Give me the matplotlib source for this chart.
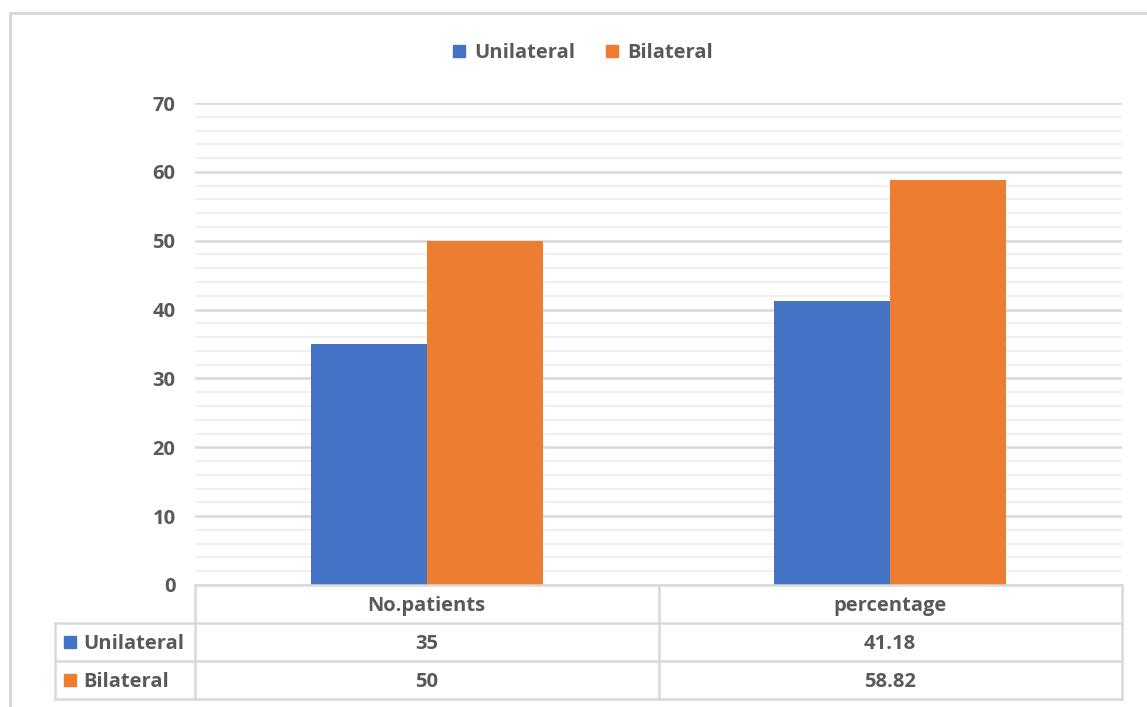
import matplotlib
matplotlib.use("Agg")
import matplotlib.pyplot as plt
from matplotlib.lines import Line2D
from matplotlib.patches import Rectangle
import numpy as np

categories = ["No.patients", "percentage"]
series_names = ["Unilateral", "Bilateral"]
unilateral = [35, 41.18]
bilateral = [50, 58.82]
table_labels = [["35", "41.18"], ["50", "58.82"]]
y_ticks = [0, 10, 20, 30, 40, 50, 60, 70]

colors = ["#4472C4", "#ED7D31"]
text_color = "#595959"
grid_major = "#D9D9D9"
grid_minor = "#F0F0F0"
plt.rcParams['font.family'] = ['Open Sans', 'DejaVu Sans']
FS = 14.5

W, H = 1147, 707
fig = plt.figure(figsize=(W / 100, H / 100), dpi=100)

def fx(px):
    return px / W

def fy(py):
    return 1 - py / H

ax_l, ax_r, ax_t, ax_b = 195, 1122, 103, 585
ax = fig.add_axes([fx(ax_l), fy(ax_b), fx(ax_r) - fx(ax_l), fy(ax_t) - fy(ax_b)])

x = np.arange(len(categories))
bw = 0.25
ax.bar(x - bw / 2, unilateral, bw, color=colors[0], zorder=3, label=series_names[0])
ax.bar(x + bw / 2, bilateral, bw, color=colors[1], zorder=3, label=series_names[1])

ax.set_xlim(-0.5, len(categories) - 0.5)
ax.set_ylim(0, 70)
ax.set_yticks(y_ticks)
ax.set_yticks(np.arange(0, 71, 2), minor=True)
ax.set_yticklabels([str(t) for t in y_ticks], fontsize=FS, fontweight='bold', color=text_color)
ax.tick_params(axis='y', which='both', length=0, pad=14)
ax.set_xticks([])
for s in ax.spines.values():
    s.set_visible(False)
ax.grid(axis='y', which='minor', color=grid_minor, linewidth=1.5, zorder=0)
ax.grid(axis='y', which='major', color=grid_major, linewidth=1.8, zorder=1)

# Table
rows_y = [585, 623, 661, 699]
lab_l = 55
col_edges_px = [ax_l, (ax_l + ax_r) / 2, ax_r]
lc = grid_major
lw = 1.8
fig.add_artist(Line2D([fx(ax_l), fx(ax_r)], [fy(rows_y[0])] * 2, color=lc, lw=lw))
for ry in rows_y[1:]:
    fig.add_artist(Line2D([fx(lab_l), fx(ax_r)], [fy(ry)] * 2, color=lc, lw=lw))
for cx in col_edges_px:
    fig.add_artist(Line2D([fx(cx)] * 2, [fy(rows_y[0]), fy(rows_y[3])], color=lc, lw=lw))
fig.add_artist(Line2D([fx(lab_l)] * 2, [fy(rows_y[1]), fy(rows_y[3])], color=lc, lw=lw))

dy = 2
for i, cat in enumerate(categories):
    cx = (col_edges_px[i] + col_edges_px[i + 1]) / 2
    fig.text(fx(cx), fy((rows_y[0] + rows_y[1]) / 2 + dy), cat, ha='center', va='center',
             fontsize=FS, fontweight='bold', color=text_color)
for r, name in enumerate(series_names):
    cy = (rows_y[r + 1] + rows_y[r + 2]) / 2
    fig.add_artist(Rectangle((fx(64), fy(cy + 6)), fx(12), 12 / H, color=colors[r]))
    fig.text(fx(83), fy(cy + dy), name, ha='left', va='center', fontsize=FS,
             fontweight='bold', color=text_color)
    for i in range(len(categories)):
        cx = (col_edges_px[i] + col_edges_px[i + 1]) / 2
        fig.text(fx(cx), fy(cy + dy), table_labels[r][i], ha='center', va='center',
                 fontsize=FS, fontweight='bold', color=text_color)

leg = fig.legend(handles=[Rectangle((0, 0), 1, 1, color=c) for c in colors], labels=series_names,
                 loc='center', bbox_to_anchor=(fx(583), fy(53)), ncol=2, frameon=False,
                 prop={'size': FS, 'weight': 'bold'}, handlelength=0.6, handleheight=0.6,
                 handletextpad=0.45, columnspacing=1.5)
for t in leg.get_texts():
    t.set_color(text_color)

fig.add_artist(Line2D([fx(10), 1], [fy(13)] * 2, color=lc, lw=2.2))
fig.add_artist(Line2D([fx(10)] * 2, [fy(13), 0], color=lc, lw=2.2))

fig.savefig("out.png", dpi=100)
